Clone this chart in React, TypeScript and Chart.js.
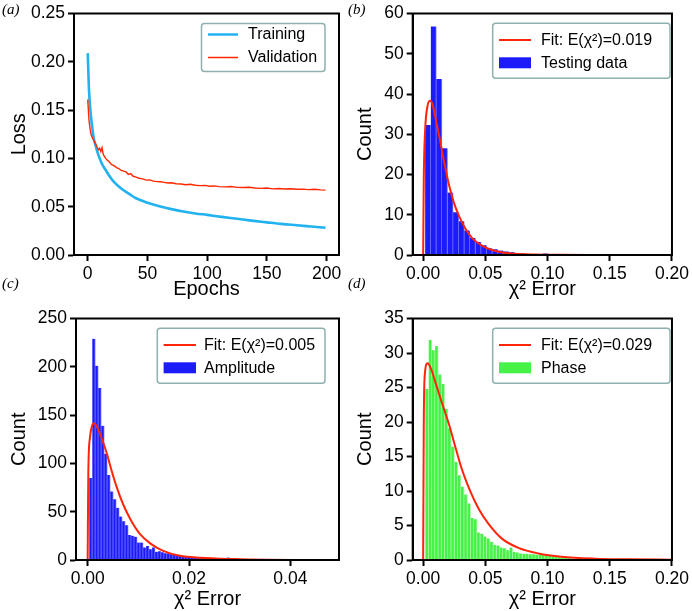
import React, { useEffect, useRef } from 'react';
import { Chart, registerables } from 'chart.js';

Chart.register(...registerables);

// ---------------- data ----------------
// (a) loss curves
const trainEpochs = [0, 1, 2, 3, 4, 5, 6, 8, 10, 12, 15, 18, 21, 25, 30, 35, 40, 45, 50, 60, 70, 80, 90, 100, 112, 125, 137, 150, 162, 175, 187, 199];
const trainLoss = [0.209, 0.172, 0.153, 0.140, 0.130, 0.121, 0.116, 0.107, 0.100, 0.094, 0.088, 0.082, 0.077, 0.072, 0.067, 0.063, 0.059, 0.0565, 0.054, 0.0505, 0.0475, 0.0450, 0.0430, 0.0415, 0.0395, 0.0375, 0.0356, 0.0338, 0.0322, 0.0308, 0.0295, 0.0282];
const valEpochs = [0, 1, 2, 3, 4, 5, 6, 7, 8, 9, 10, 11, 12, 13, 14, 15, 16, 18, 20, 22, 24, 26, 28, 30, 32, 34, 36, 38, 40, 43, 46, 49, 52, 55, 58, 61, 64, 67, 70, 74, 78, 82, 86, 90, 94, 98, 102, 106, 110, 115, 120, 125, 130, 135, 140, 145, 150, 155, 160, 165, 170, 175, 180, 185, 190, 195, 199];
const valLoss = [0.161, 0.140, 0.130, 0.124, 0.121, 0.119, 0.116, 0.114, 0.111, 0.109, 0.1105, 0.107, 0.111, 0.104, 0.102, 0.100, 0.0985, 0.0965, 0.0935, 0.0925, 0.0905, 0.0895, 0.0875, 0.0868, 0.0860, 0.0835, 0.0842, 0.0815, 0.0808, 0.0795, 0.0788, 0.0775, 0.0778, 0.0765, 0.0760, 0.0758, 0.0752, 0.0745, 0.0748, 0.0738, 0.0735, 0.0728, 0.0732, 0.0722, 0.0718, 0.0721, 0.0712, 0.0715, 0.0708, 0.0705, 0.0709, 0.0700, 0.0698, 0.0702, 0.0694, 0.0690, 0.0693, 0.0685, 0.0688, 0.0683, 0.0686, 0.0680, 0.0682, 0.0677, 0.0680, 0.0674, 0.0672];

// (b) testing data histogram + fit
const TEST_BIN_START = 0.0016;
const TEST_BIN_WIDTH = 0.0045;
const testCounts = [32.3, 56.8, 43.7, 26.5, 15.5, 10.6, 8.4, 6.1, 4.2, 3.2, 2.4, 1.7, 1.4, 1.1, 0.9, 0.7, 0.5, 0.4, 0.2, 0.15, 0.1, 0.4];
const testFitX = [0, 0.0005, 0.0016, 0.0035, 0.0056, 0.0074, 0.0101, 0.0128, 0.0168, 0.0207, 0.0247, 0.0287, 0.034, 0.0394, 0.0447, 0.05, 0.0606, 0.074, 0.09, 0.11, 0.14, 0.17, 0.2];
const testFitY = [0, 19, 31, 37, 38.3, 37.5, 33.8, 29.7, 23.2, 17.5, 13.0, 9.8, 6.5, 4.2, 2.85, 1.9, 0.8, 0.3, 0.12, 0.05, 0.02, 0.01, 0.01];

// (c) amplitude histogram + fit
const AMP_BIN_START = 0.00033;
const AMP_BIN_WIDTH = 0.00059;
const ampCounts = [85, 229, 201, 178, 139, 110, 88, 71, 63, 54, 45, 40, 36, 26, 25, 24, 18, 18, 13, 14.6, 11, 13,
  8.5, 9, 8, 7, 7, 6, 5.5, 5, 4.5, 4, 3.5, 3.4,
  3, 2.5, 2.5, 2, 2, 1.5, 1.5, 1, 1, 1, 0.8, 0.8,
  2.6, 0.5, 0.5, 1.5, 0.3, 0.3, 0.3, 0.3, 0.2, 0.2, 0.3, 0.7, 0.2];
const ampFitX = [0, 0.00013, 0.00046, 0.00086, 0.0013, 0.0019, 0.0028, 0.0038, 0.0047, 0.0057, 0.007, 0.0084, 0.0103, 0.0124, 0.0149, 0.0182, 0.0222, 0.0288, 0.0353, 0.042, 0.05];
const ampFitY = [0, 90, 127, 139, 141.5, 137, 125.5, 110, 93, 76, 57.7, 42.4, 27, 17, 9.5, 4.4, 2.4, 1, 0.3, 0.1, 0.05];

// (d) phase histogram + fit
const PHASE_BIN_START = 0.0018;
const PHASE_BIN_WIDTH = 0.0026;
const phaseCounts = [24.8, 31.9, 30.4, 31.0, 26.9, 25.5, 21.9, 19.1, 16.4, 14.2, 12.3, 10.6, 9.5, 8.2, 6.1, 5.9, 4.0, 3.8, 3.4, 3.1, 2.6, 2.2, 2.1, 1.8, 1.7, 1.4, 1.8, 1.2, 1.1, 0.95, 0.9, 0.9, 0.85, 0.85, 0.8, 0.8, 0.7, 0.65, 0.6, 0.55, 0.45, 0.4, 0.35, 0.3, 0.25, 0.2];
const phaseFitX = [0, 0.0005, 0.0013, 0.0035, 0.0061, 0.0101, 0.0154, 0.0207, 0.026, 0.0314, 0.038, 0.0447, 0.0527, 0.0633, 0.0766, 0.0926, 0.111, 0.138, 0.164, 0.2];
const phaseFitY = [0, 19.7, 26.8, 28.5, 27.8, 25.6, 22.6, 19.7, 16.3, 13.0, 9.9, 7.4, 5.2, 3.1, 1.76, 0.95, 0.47, 0.19, 0.1, 0.05];

// tick values
const epochTicks = [0, 50, 100, 150, 200];
const lossTicks = [0, 0.05, 0.1, 0.15, 0.2, 0.25];
const errTicksWide = [0, 0.05, 0.1, 0.15, 0.2];
const errTicksNarrow = [0, 0.02, 0.04];
const countTicksB = [0, 10, 20, 30, 40, 50, 60];
const countTicksC = [0, 50, 100, 150, 200, 250];
const countTicksD = [0, 5, 10, 15, 20, 25, 30, 35];

// labels
const LEG_TRAIN = 'Training';
const LEG_VAL = 'Validation';
const LEG_FIT_B = 'Fit: E(χ²)=0.019';
const LEG_FIT_C = 'Fit: E(χ²)=0.005';
const LEG_FIT_D = 'Fit: E(χ²)=0.029';
const LEG_TEST = 'Testing data';
const LEG_AMP = 'Amplitude';
const LEG_PHASE = 'Phase';

// ---------------- styling ----------------
const FONT = '"Liberation Sans", Arial, sans-serif';
const BLUE_BAR = 'rgb(28,28,250)';
const BLUE_EDGE = 'rgb(120,120,255)';
const GREEN_BAR = 'rgb(70,242,70)';
const GREEN_EDGE = 'rgb(175,252,175)';
const FIT_RED = 'rgb(255,36,10)';
const TRAIN_BLUE = 'rgb(34,178,240)';
const VAL_RED = 'rgb(255,40,0)';

const toXY = (xs: number[], ys: number[]) => xs.map((x, i) => ({ x, y: ys[i] }));
const binPoints = (start: number, width: number, counts: number[]) =>
  counts.map((c, i) => ({ x: start + (i + 0.5) * width, y: c }));

const framePlugin = {
  id: 'frame',
  afterDatasetsDraw(chart: any) {
    const { ctx, chartArea: a } = chart;
    ctx.save();
    ctx.strokeStyle = '#000';
    ctx.lineWidth = 2;
    ctx.strokeRect(a.left, a.top, a.right - a.left, a.bottom - a.top);
    ctx.restore();
  },
};

const insideLegend = {
  id: 'insideLegend',
  afterDraw(chart: any, _args: any, opts: any) {
    if (!opts || !opts.box) return;
    const { ctx } = chart;
    const { box, items, sx0, sx1, tx } = opts;
    ctx.save();
    const r = 3;
    ctx.beginPath();
    ctx.moveTo(box.x + r, box.y);
    ctx.lineTo(box.x + box.w - r, box.y);
    ctx.arcTo(box.x + box.w, box.y, box.x + box.w, box.y + r, r);
    ctx.lineTo(box.x + box.w, box.y + box.h - r);
    ctx.arcTo(box.x + box.w, box.y + box.h, box.x + box.w - r, box.y + box.h, r);
    ctx.lineTo(box.x + r, box.y + box.h);
    ctx.arcTo(box.x, box.y + box.h, box.x, box.y + box.h - r, r);
    ctx.lineTo(box.x, box.y + r);
    ctx.arcTo(box.x, box.y, box.x + r, box.y, r);
    ctx.closePath();
    ctx.fillStyle = 'rgba(255,255,255,0.85)';
    ctx.fill();
    ctx.strokeStyle = '#8fb0b0';
    ctx.lineWidth = 1.5;
    ctx.stroke();
    items.forEach((it: any) => {
      const ds = chart.data.datasets[it.ds];
      const y = box.y + it.dy;
      if (it.kind === 'line') {
        ctx.strokeStyle = ds.borderColor;
        ctx.lineWidth = it.lw;
        ctx.beginPath();
        ctx.moveTo(box.x + sx0, y);
        ctx.lineTo(box.x + sx1, y);
        ctx.stroke();
      } else {
        ctx.fillStyle = ds.backgroundColor;
        ctx.fillRect(box.x + sx0, y - 5.5, sx1 - sx0, 11);
      }
      ctx.fillStyle = '#000';
      ctx.font = `16px ${FONT}`;
      ctx.textBaseline = 'middle';
      ctx.textAlign = 'left';
      ctx.fillText(ds.label, box.x + tx, y + 0.5);
    });
    ctx.restore();
  },
};

function linAxis(o: {
  min: number; max: number; ticks: number[]; digits: number; title: string;
  fit: number; vertical: boolean; titlePad: any;
}) {
  return {
    type: 'linear',
    offset: false,
    min: o.min,
    max: o.max,
    afterBuildTicks: (s: any) => { s.ticks = o.ticks.map((v) => ({ value: v })); },
    afterFit: (s: any) => { if (o.vertical) s.width = o.fit; else s.height = o.fit; },
    grid: { offset: false, drawOnChartArea: false, drawTicks: true, tickLength: 6, tickWidth: 2, tickColor: '#000', color: '#000' },
    border: { display: true, color: '#000', width: 2 },
    ticks: {
      color: '#000', padding: 3, autoSkip: false, maxRotation: 0, minRotation: 0,
      font: { family: FONT, size: 17.5 },
      callback: (v: any) => Number(v).toFixed(o.digits),
    },
    title: { display: true, text: o.title, color: '#000', font: { family: FONT, size: 20 }, padding: o.titlePad },
  };
}

function baseOptions(pad: { right: number; top: number }) {
  return {
    responsive: false,
    animation: false,
    devicePixelRatio: 1,
    layout: { padding: { left: 0, right: pad.right, top: pad.top, bottom: 0 }, autoPadding: false },
  };
}

function histConfig(p: {
  bars: { x: number; y: number }[]; fit: { x: number; y: number }[];
  barColor: string; edgeColor: string; barLabel: string; fitLabel: string;
  xMin: number; xMax: number; xTicks: number[]; xDigits: number;
  yMax: number; yTicks: number[]; yFit: number; xFit: number; right: number;
  legend: any; xTitlePad: any;
}) {
  return {
    type: 'bar',
    data: {
      datasets: [
        {
          type: 'line', label: p.fitLabel, data: p.fit, borderColor: FIT_RED, borderWidth: 2,
          pointRadius: 0, cubicInterpolationMode: 'monotone', fill: false, order: 0,
        },
        {
          type: 'bar', label: p.barLabel, data: p.bars, backgroundColor: p.barColor,
          borderColor: p.edgeColor, borderWidth: { left: 0, right: 1, top: 0, bottom: 0 },
          borderSkipped: false, barPercentage: 1, categoryPercentage: 1, order: 1,
        },
      ],
    },
    options: {
      ...baseOptions({ right: p.right, top: 9 }),
      scales: {
        x: linAxis({ min: p.xMin, max: p.xMax, ticks: p.xTicks, digits: p.xDigits, title: 'χ² Error', fit: p.xFit, vertical: false, titlePad: p.xTitlePad }),
        y: linAxis({ min: 0, max: p.yMax, ticks: p.yTicks, digits: 0, title: 'Count', fit: p.yFit, vertical: true, titlePad: { top: 7, bottom: 0 } }),
      },
      plugins: { legend: { display: false }, tooltip: { enabled: false }, insideLegend: p.legend },
    },
    plugins: [framePlugin, insideLegend],
  };
}

function buildA() {
  return {
    type: 'line',
    data: {
      datasets: [
        {
          label: LEG_TRAIN, data: toXY(trainEpochs, trainLoss), borderColor: TRAIN_BLUE, borderWidth: 2.6,
          pointRadius: 0, cubicInterpolationMode: 'monotone', fill: false, order: 1,
        },
        {
          label: LEG_VAL, data: toXY(valEpochs, valLoss), borderColor: VAL_RED, borderWidth: 1.4,
          pointRadius: 0, tension: 0, fill: false, order: 0,
        },
      ],
    },
    options: {
      ...baseOptions({ right: 7, top: 9 }),
      scales: {
        x: linAxis({ min: -11.5, max: 210.3, ticks: epochTicks, digits: 0, title: 'Epochs', fit: 50, vertical: false, titlePad: { top: 0, bottom: 4 } }),
        y: linAxis({ min: 0, max: 0.25, ticks: lossTicks, digits: 2, title: 'Loss', fit: 74, vertical: true, titlePad: { top: 7, bottom: 0 } }),
      },
      plugins: {
        legend: { display: false }, tooltip: { enabled: false },
        insideLegend: {
          box: { x: 201.5, y: 23.5, w: 123.5, h: 48 }, sx0: 6.5, sx1: 36.5, tx: 46.5,
          items: [{ ds: 0, kind: 'line', lw: 2.5, dy: 11 }, { ds: 1, kind: 'line', lw: 1.5, dy: 34 }],
        },
      },
    },
    plugins: [framePlugin, insideLegend],
  };
}

const wideLegend = (x: number, w: number, sx1: number, tx: number) => ({
  box: { x, y: 23.3, w, h: 55 }, sx0: 6.3, sx1, tx,
  items: [{ ds: 0, kind: 'line', lw: 2, dy: 16.7 }, { ds: 1, kind: 'rect', dy: 39.5 }],
});

function buildB() {
  return histConfig({
    bars: binPoints(TEST_BIN_START, TEST_BIN_WIDTH, testCounts), fit: toXY(testFitX, testFitY),
    barColor: BLUE_BAR, edgeColor: BLUE_EDGE, barLabel: LEG_TEST, fitLabel: LEG_FIT_B,
    xMin: -0.0084, xMax: 0.2, xTicks: errTicksWide, xDigits: 2,
    yMax: 60, yTicks: countTicksB, yFit: 66.7, xFit: 50, right: 17.7,
    legend: wideLegend(146.7, 177.3, 38.3, 48.3), xTitlePad: { top: 0, bottom: 4 },
  });
}

function buildC() {
  return histConfig({
    bars: binPoints(AMP_BIN_START, AMP_BIN_WIDTH, ampCounts), fit: toXY(ampFitX, ampFitY),
    barColor: BLUE_BAR, edgeColor: BLUE_EDGE, barLabel: LEG_AMP, fitLabel: LEG_FIT_C,
    xMin: -0.0023, xMax: 0.0496, xTicks: errTicksNarrow, xDigits: 2,
    yMax: 250, yTicks: countTicksC, yFit: 76, xFit: 51, right: 7,
    legend: wideLegend(157.3, 167.7, 38.7, 46.7), xTitlePad: { top: 0, bottom: 0 },
  });
}

function buildD() {
  return histConfig({
    bars: binPoints(PHASE_BIN_START, PHASE_BIN_WIDTH, phaseCounts), fit: toXY(phaseFitX, phaseFitY),
    barColor: GREEN_BAR, edgeColor: GREEN_EDGE, barLabel: LEG_PHASE, fitLabel: LEG_FIT_D,
    xMin: -0.0084, xMax: 0.2, xTicks: errTicksWide, xDigits: 2,
    yMax: 35, yTicks: countTicksD, yFit: 66.7, xFit: 51, right: 17.7,
    legend: wideLegend(146.7, 177.3, 38.3, 48.3), xTitlePad: { top: 0, bottom: 0 },
  });
}

function ChartCanvas(props: { left: number; top: number; width: number; height: number; build: () => any }) {
  const ref = useRef<HTMLCanvasElement>(null);
  useEffect(() => {
    const chart = new Chart(ref.current as HTMLCanvasElement, props.build());
    return () => chart.destroy();
  }, []);
  return (
    <canvas
      ref={ref}
      width={props.width}
      height={props.height}
      style={{ position: 'absolute', left: props.left, top: props.top, width: props.width, height: props.height }}
    />
  );
}

const letterStyle = (left: number, top: number): React.CSSProperties => ({
  position: 'absolute', left, top, fontFamily: '"Liberation Serif", "Times New Roman", serif',
  fontStyle: 'italic', fontSize: 15, lineHeight: '16px', color: '#000', zIndex: 2,
});

export default function App() {
  return (
    <div style={{ position: 'absolute', left: 0, top: 0, width: 692, height: 611, background: '#fff', overflow: 'hidden' }}>
      <ChartCanvas left={0} top={0} width={346} height={305} build={buildA} />
      <ChartCanvas left={346} top={0} width={346} height={305} build={buildB} />
      <ChartCanvas left={0} top={305} width={346} height={306} build={buildC} />
      <ChartCanvas left={346} top={305} width={346} height={306} build={buildD} />
      <div style={letterStyle(2, 1)}>(a)</div>
      <div style={letterStyle(348, 1)}>(b)</div>
      <div style={letterStyle(2, 275)}>(c)</div>
      <div style={letterStyle(348, 275)}>(d)</div>
    </div>
  );
}
